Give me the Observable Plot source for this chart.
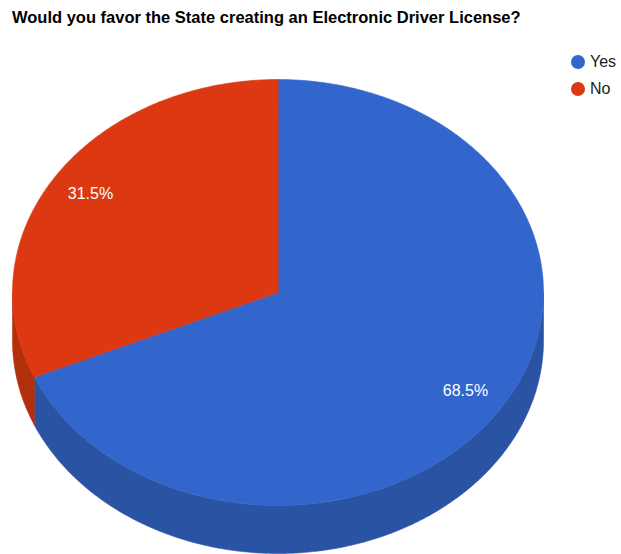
<!DOCTYPE html>
<html>
<head>
<meta charset="utf-8">
<script src="https://cdn.jsdelivr.net/npm/d3@7"></script>
<script src="https://cdn.jsdelivr.net/npm/@observablehq/plot@0.6"></script>
<style>
  html, body { margin: 0; padding: 0; background: #fff; }
  body { font-family: "Liberation Sans", Arial, Helvetica, sans-serif; }
  #wrap { position: relative; width: 621px; height: 554px; overflow: hidden; }
  #title { height: 40px; box-sizing: border-box; padding: 8px 0 0 12px; font-size: 16.5px; font-weight: bold; color: #000; white-space: nowrap; }
  #legend { position: absolute; left: 571px; top: 48px; font-size: 16px; color: #222; }
  .item { display: flex; align-items: center; height: 27px; }
  .sw { width: 14px; height: 14px; border-radius: 50%; margin-right: 5px; flex: none; }
  #chart svg { display: block; }
</style>
</head>
<body>
<div id="wrap">
  <div id="title"></div>
  <div id="chart"></div>
  <div id="legend"></div>
</div>
<script>
// ---- data ----
const titleText = "Would you favor the State creating an Electronic Driver License?";
const categories = ["Yes", "No"];
const values = [68.5, 31.5];
const labels = ["68.5%", "31.5%"];
const topColors = ["#3366cc", "#dc3912"];
const sideColors = ["#2b53a3", "#b3300f"];

// ---- geometry (plot frame units = px inside the svg) ----
const W = 621, H = 514;
const cx = 277.5, cy = 252, rx = 265.5, ry = 213, depth = 48;
const labelFrac = 0.845;

document.getElementById("title").textContent = titleText;

const total = d3.sum(values);
const pt = (t, dy = 0) => ({x: cx + rx * Math.sin(t), y: cy - ry * Math.cos(t) + dy});
function arc(a0, a1, dy) {
  const n = Math.max(2, Math.ceil(Math.abs(a1 - a0) / 0.01));
  const out = [];
  for (let i = 0; i <= n; i++) out.push(pt(a0 + (a1 - a0) * i / n, dy));
  return out;
}

const topPts = [], sidePts = [], labelPts = [];
let acc = 0;
categories.forEach((c, i) => {
  const a0 = acc / total * 2 * Math.PI;
  acc += values[i];
  const a1 = acc / total * 2 * Math.PI;
  // top face
  [ {x: cx, y: cy}, ...arc(a0, a1, 0) ].forEach(p => topPts.push({...p, id: c, col: topColors[i]}));
  // visible side (front half: PI/2 .. 3PI/2)
  const s0 = Math.max(a0, Math.PI / 2), s1 = Math.min(a1, 3 * Math.PI / 2);
  if (s1 > s0) {
    [...arc(s0, s1, 0), ...arc(s1, s0, depth)].forEach(p => sidePts.push({...p, id: c, col: sideColors[i]}));
  }
  const am = (a0 + a1) / 2;
  labelPts.push({x: cx + rx * labelFrac * Math.sin(am), y: cy - ry * labelFrac * Math.cos(am), text: labels[i]});
});

const chart = Plot.plot({
  width: W, height: H, margin: 0,
  x: {domain: [0, W], range: [0, W], axis: null},
  y: {domain: [0, H], range: [0, H], axis: null},
  color: {type: "identity"},
  style: {fontFamily: "'Liberation Sans', Arial, sans-serif", background: "white"},
  marks: [
    Plot.line(sidePts, {x: "x", y: "y", z: "id", fill: "col", stroke: "col", strokeWidth: 0.6, curve: "linear-closed"}),
    Plot.line(topPts, {x: "x", y: "y", z: "id", fill: "col", stroke: "col", strokeWidth: 0.6, curve: "linear-closed"}),
    Plot.text(labelPts, {x: "x", y: "y", text: "text", fill: "white", fontSize: 16})
  ]
});
document.getElementById("chart").appendChild(chart);

const legend = document.getElementById("legend");
categories.forEach((c, i) => {
  const item = document.createElement("div");
  item.className = "item";
  const sw = document.createElement("span");
  sw.className = "sw";
  sw.style.background = topColors[i];
  const t = document.createElement("span");
  t.textContent = c;
  item.appendChild(sw); item.appendChild(t);
  legend.appendChild(item);
});
</script>
</body>
</html>
